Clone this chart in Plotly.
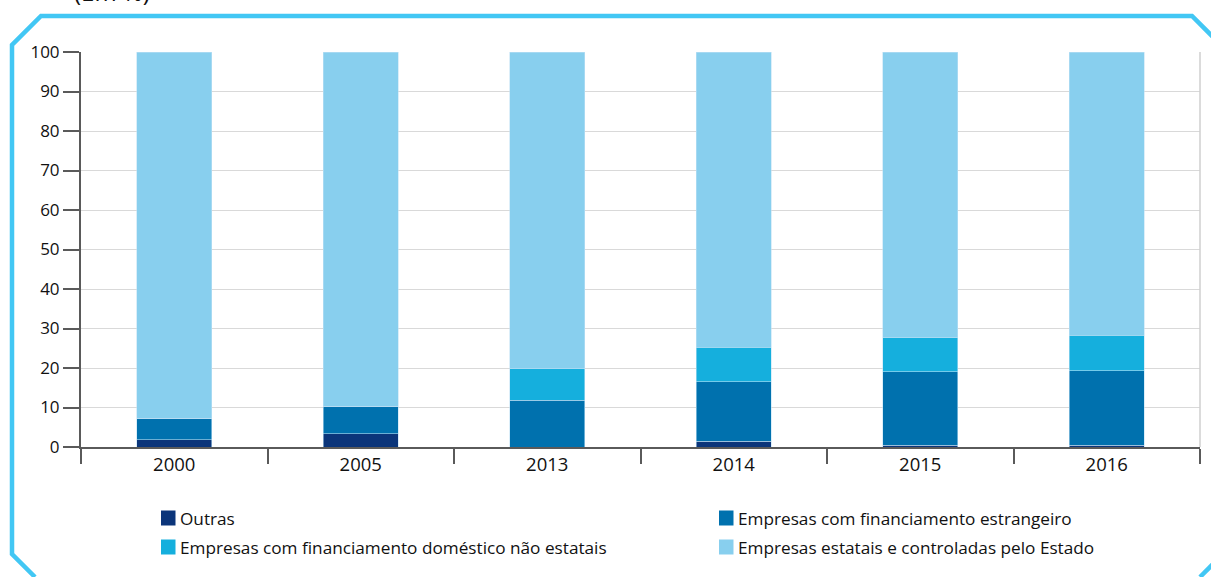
import plotly.graph_objects as go

years = ["2000", "2005", "2013", "2014", "2015", "2016"]
outras = [1.9, 3.4, 0.0, 1.4, 0.4, 0.4]
estrangeiro = [5.4, 6.9, 11.9, 15.1, 18.6, 18.9]
domestico = [0.0, 0.0, 7.9, 8.8, 8.6, 9.0]
estatais = [92.7, 89.7, 80.2, 74.7, 72.4, 71.7]

names = [
    "Outras",
    "Empresas com financiamento estrangeiro",
    "Empresas com financiamento doméstico não estatais",
    "Empresas estatais e controladas pelo Estado",
]
colors = ["#0b357a", "#0071ae", "#15afdd", "#88cfee"]
series = [outras, estrangeiro, domestico, estatais]
y_ticks = list(range(0, 101, 10))

W, H = 1211, 577
L, R, T, B = 81, 11, 52, 130
pw, ph = W - L - R, H - T - B


def px(x):
    return (x - L) / pw


def py(y):
    return (H - B - y) / ph


fig = go.Figure()
for name, vals, col in zip(names, series, colors):
    fig.add_trace(go.Bar(
        x=years, y=vals, name=name, width=0.4,
        marker=dict(color=col, line=dict(color="rgba(190,225,245,0.7)", width=0.8)),
        showlegend=False,
    ))

font = "Open Sans, Noto Sans, sans-serif"
shapes = []
annotations = []

# right border of plot area
shapes.append(dict(type="line", xref="paper", yref="paper", x0=1, x1=1, y0=0, y1=1,
                   line=dict(color="#cfcfcf", width=1.5)))

# frame with chamfered corners
frame_path = "M {},{} L {},{} L {},{} L {},{}".format(
    px(35), py(577), px(12), py(554), px(12), py(45), px(41), py(16))
frame_path += " L {},{} L {},{}".format(px(1192), py(16), px(1232), py(56))
shapes.append(dict(type="path", xref="paper", yref="paper", path=frame_path,
                   line=dict(color="#42c7f4", width=4.5), layer="below"))
shapes.append(dict(type="line", xref="paper", yref="paper",
                   x0=px(1230), y0=py(547), x1=px(1200), y1=py(577),
                   line=dict(color="#42c7f4", width=4.5)))

# manual legend
legend_pos = [(161, 518), (719, 518), (161, 547), (719, 547)]
for name, col, (lx, ly) in zip(names, colors, legend_pos):
    shapes.append(dict(type="rect", xref="paper", yref="paper",
                       x0=px(lx), x1=px(lx + 14.5), y0=py(ly - 7.5), y1=py(ly + 7.5),
                       fillcolor=col, line=dict(width=0)))
    annotations.append(dict(xref="paper", yref="paper", x=px(lx + 17), y=py(ly),
                            xanchor="left", yanchor="middle", showarrow=False,
                            text=name, font=dict(family=font, size=17.2, color="#111111")))

annotations.append(dict(xref="paper", yref="paper", x=px(72), y=py(10),
                        xanchor="left", yanchor="bottom", showarrow=False,
                        text="(Em %)", font=dict(family=font, size=24, color="#111111")))

fig.update_layout(
    width=W, height=H,
    margin=dict(l=L, r=R, t=T, b=B),
    barmode="stack",
    paper_bgcolor="white", plot_bgcolor="white",
    font=dict(family=font, size=17, color="#111111"),
    shapes=shapes, annotations=annotations,
    xaxis=dict(type="category", tickson="boundaries", ticks="outside", ticklen=15,
               tickwidth=1.5, tickcolor="#5a5a5a", showline=True, linecolor="#5a5a5a",
               linewidth=2, showgrid=False, tickfont=dict(size=18.5)),
    yaxis=dict(range=[0, 100], tickvals=y_ticks, ticks="outside", ticklen=16,
               tickwidth=1.5, tickcolor="#5a5a5a", showline=True, linecolor="#5a5a5a",
               linewidth=2, gridcolor="#d9d9d9", gridwidth=1.2, zeroline=False,
               tickfont=dict(size=17)),
)

fig.write_html("out.html", config={"displayModeBar": False},
               post_script="document.body.style.margin='0';document.body.style.padding='0';")
